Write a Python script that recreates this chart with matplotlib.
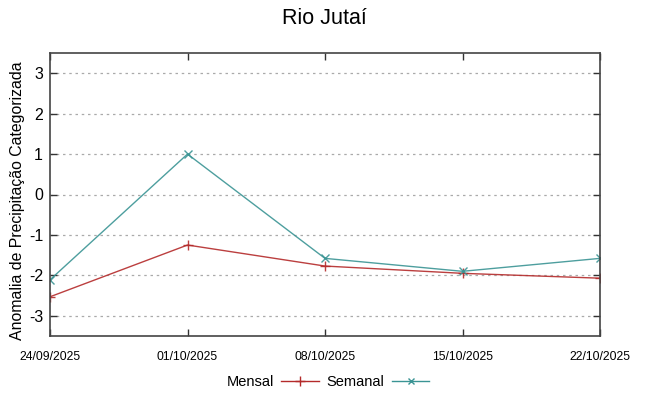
import matplotlib
matplotlib.use("Agg")
import matplotlib.pyplot as plt
from matplotlib.lines import Line2D

plt.rcParams['font.family'] = ['Liberation Sans', 'DejaVu Sans']

dates = ["24/09/2025", "01/10/2025", "08/10/2025", "15/10/2025", "22/10/2025"]
mensal = [-2.53, -1.25, -1.77, -1.95, -2.07]
semanal = [-2.11, 1.0, -1.58, -1.90, -1.58]
yticks = [-3, -2, -1, 0, 1, 2, 3]

c_mensal = '#b42a2a'
c_semanal = '#3a9494'

fig = plt.figure(figsize=(6.49, 3.96), dpi=100)
ax = fig.add_axes([50/649, 60/396, 550/649, 283/396])
x = list(range(len(dates)))
ax.plot(x, mensal, color=c_mensal, marker='+', markersize=7, lw=1.0, label='Mensal', alpha=0.9)
ax.plot(x, semanal, color=c_semanal, marker='x', markersize=6, lw=1.0, label='Semanal', alpha=0.9)

ax.set_xlim(0, len(dates) - 1)
ax.set_ylim(-3.5, 3.5)
ax.set_xticks(x)
ax.set_xticklabels(dates, fontsize=8.8)
ax.set_yticks(yticks)
ax.set_yticklabels([str(v) for v in yticks], fontsize=11.5)
ax.tick_params(direction='in', length=5, top=True, right=True, width=1, color='#333333')
ax.tick_params(axis='x', pad=11)
ax.tick_params(axis='y', pad=5)
ax.grid(axis='y', linestyle=(0, (2, 3)), color='#aaaaaa', lw=0.9)
for s in ax.spines.values():
    s.set_color('#444444')
    s.set_linewidth(1.2)
fig.text(18/649, 1 - 201/396, 'Anomalia de Precipitação Categorizada', fontsize=11.4,
         rotation=90, ha='center', va='center')
fig.text(0.5, 1 - 19/396, 'Rio Jutaí', fontsize=15.5, ha='center', va='center')

handles = [Line2D([], [], color=c_mensal, marker='+', markersize=7, lw=1.0),
           Line2D([], [], color=c_semanal, marker='x', markersize=5, lw=1.0)]
fig.legend(handles, ['Mensal', 'Semanal'], loc='center', bbox_to_anchor=(328/649, 14/396),
           ncol=2, frameon=False, markerfirst=False, handlelength=2.6, fontsize=10.5,
           columnspacing=0.5, handletextpad=0.5)

fig.savefig('out.png', dpi=100)
